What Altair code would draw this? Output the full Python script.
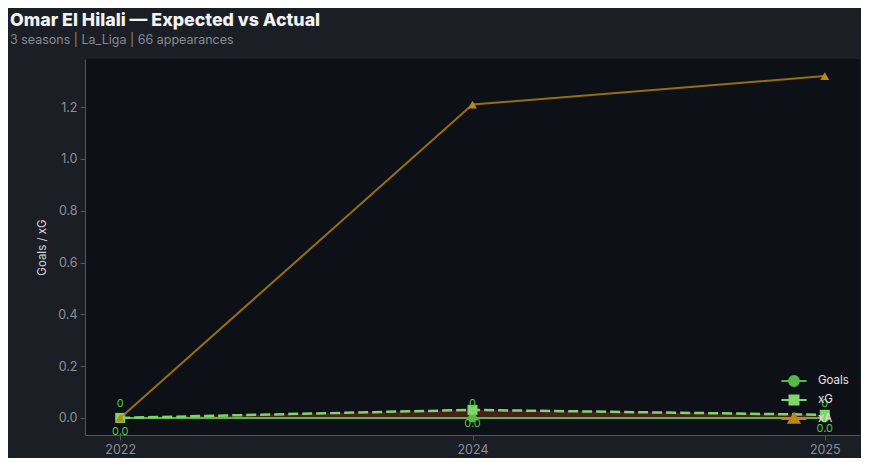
import altair as alt
import pandas as pd

seasons = ["2022", "2024", "2025"]
goals = [0, 0, 0]
xg = [0.0, 0.031, 0.012]
xa = [0.0, 1.21, 1.32]
series_names = ["Goals", "xG", "xA"]
series_colors = ["#56b947", "#7fd66a", "#b8861b"]
goal_labels = ["0", "0", "0"]
xg_labels = ["0.0", "0.0", "0.0"]

df = pd.DataFrame({
    "season": seasons, "goals": goals, "xg": xg, "xa": xa,
    "glab": goal_labels, "xglab": xg_labels,
})

leg_df = pd.DataFrame({"season": ["2022"] * 3, "v": [0, 0, 0], "series": series_names})

X = alt.X("season:O", scale=alt.Scale(type="point", padding=0.1),
          axis=alt.Axis(title=None, labelAngle=0))
yscale = alt.Scale(domain=[-0.066, 1.386], nice=False, zero=False)
Y_AX = alt.Axis(title="Goals / xG", values=[0, 0.2, 0.4, 0.6, 0.8, 1.0, 1.2], format=".1f")

base = alt.Chart(df)

area = base.mark_area(color="#c0392b", opacity=0.35).encode(
    x=X, y=alt.Y("goals:Q", scale=yscale, axis=Y_AX), y2="xg:Q")

g_line = base.mark_line(color=series_colors[0], strokeWidth=2).encode(
    x=X, y=alt.Y("goals:Q", scale=yscale))
g_pts = base.mark_point(shape="circle", filled=True, size=80, opacity=1,
                        color=series_colors[0]).encode(x=X, y=alt.Y("goals:Q", scale=yscale))

xg_line = base.mark_line(color=series_colors[1], strokeWidth=2.5, strokeDash=[10, 4]).encode(
    x=X, y=alt.Y("xg:Q", scale=yscale))
xg_pts = base.mark_point(shape="square", filled=True, size=100, opacity=1,
                         color=series_colors[1]).encode(x=X, y=alt.Y("xg:Q", scale=yscale))

xa_line = base.mark_line(color="#b8860b", opacity=0.8, strokeWidth=2).encode(
    x=X, y=alt.Y("xa:Q", scale=yscale))
xa_pts = base.mark_point(shape="triangle-up", filled=True, size=80, opacity=1,
                         color=series_colors[2]).encode(x=X, y=alt.Y("xa:Q", scale=yscale))

g_txt = base.mark_text(color="#5cc24a", fontSize=11, dy=-14, font="Inter").encode(
    x=X, y=alt.Y("goals:Q", scale=yscale), text="glab:N")
xg_txt = base.mark_text(color="#5cc24a", fontSize=11, dy=14, font="Inter").encode(
    x=X, y=alt.Y("xg:Q", scale=yscale), text="xglab:N")

paths = [
    "M-1.4,0H1.4M-0.55,0A0.55,0.55,0,1,1,0.55,0A0.55,0.55,0,1,1,-0.55,0Z",
    "M-1.4,0H1.4M-0.5,-0.5H0.5V0.5H-0.5Z",
    "M-1.4,0H1.4M0,-0.6L0.6,0.42L-0.6,0.42Z",
]
leg = alt.Legend(title=None, orient="none", legendX=699, legendY=312,
                 symbolOpacity=1, symbolSize=324, symbolStrokeWidth=2,
                 labelColor="#e6e6e6", labelFontSize=11.5, labelFont="Inter",
                 rowPadding=0, padding=0, labelOffset=14)
legend_layer = alt.Chart(leg_df).mark_point(filled=True, opacity=0).encode(
    x=X, y=alt.Y("v:Q", scale=yscale),
    fill=alt.Fill("series:N", scale=alt.Scale(domain=series_names, range=series_colors), legend=leg),
    stroke=alt.Stroke("series:N", scale=alt.Scale(domain=series_names, range=series_colors), legend=leg),
    shape=alt.Shape("series:N", scale=alt.Scale(domain=series_names, range=paths), legend=leg),
)

chart = alt.layer(area, legend_layer, g_line, g_pts, xg_line, xg_pts, xa_line, xa_pts, g_txt, xg_txt).properties(
    width=775, height=376,
    autosize="none",
    padding={"left": 77, "top": 51, "right": 1, "bottom": 23},
    title=alt.TitleParams(
        text="Omar El Hilali — Expected vs Actual",
        subtitle="3 seasons | La_Liga | 66 appearances",
        anchor="start", frame="group", dx=-75, offset=13,
        font="Inter", fontSize=17.8, fontWeight=800, color="#f2f2f2",
        subtitleFont="Inter", subtitleFontSize=12.5, subtitleColor="#858a93", subtitlePadding=4,
    ),
).configure(background="#1b1e25").configure_view(
    fill="#0d1017", stroke=None
).configure_axis(
    grid=False, domainColor="#50555e", tickColor="#50555e", tickSize=5,
    labelColor="#8b9099", labelFont="Inter", labelFontSize=12.5, labelPadding=3,
    titleColor="#d8d8d8", titleFont="Inter", titleFontSize=11.5, titleFontWeight="normal",
    titlePadding=10,
)

chart.save("out.html", embed_options={"renderer": "svg", "actions": False})
